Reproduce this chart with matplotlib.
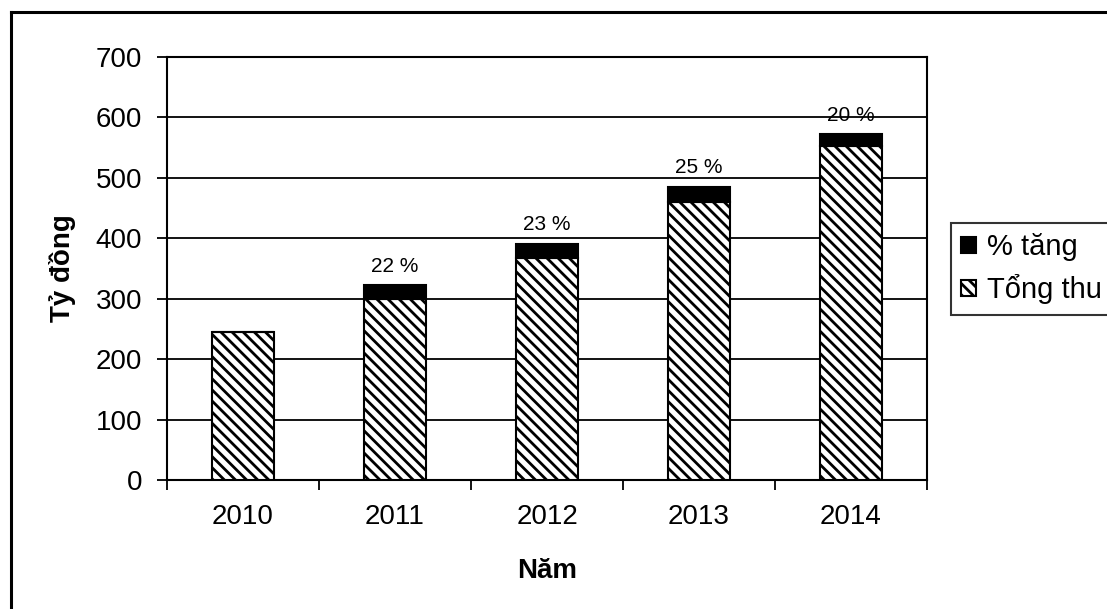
import matplotlib
matplotlib.use("Agg")
import matplotlib.pyplot as plt
from matplotlib.lines import Line2D
import numpy as np

years = ["2010", "2011", "2012", "2013", "2014"]
tong_thu = [245, 300, 368, 460, 552]
pct_tang = [0, 22, 23, 25, 20]
pct_labels = ["", "22 %", "23 %", "25 %", "20 %"]
yticks = [0, 100, 200, 300, 400, 500, 600, 700]

plt.rcParams['font.family'] = ['Liberation Sans', 'DejaVu Sans']
plt.rcParams['hatch.linewidth'] = 2.0

fig = plt.figure(figsize=(11.07, 6.09), dpi=100)
ax = fig.add_axes([167/1107, 1 - 480/609, 760/1107, 423/609])

x = np.arange(len(years))
w = 0.41
b1 = ax.bar(x, tong_thu, width=w, color='white', edgecolor='black',
            hatch='\\\\\\', linewidth=1.5, zorder=3, label='Tổng thu')
b2 = ax.bar(x, pct_tang, width=w, bottom=tong_thu, color='black',
            edgecolor='black', linewidth=1.5, zorder=3, label='% tăng')

for xi, t, p, lab in zip(x, tong_thu, pct_tang, pct_labels):
    if lab:
        ax.annotate(lab, (xi, t + p), xytext=(0, 7), textcoords='offset points',
                    ha='center', va='bottom', fontsize=15)

ax.set_xlim(-0.5, len(years) - 0.5)
ax.set_ylim(0, 700)
ax.set_yticks(yticks)
ax.yaxis.grid(True, color='black', linewidth=1.3, zorder=0)
ax.set_axisbelow(True)

ax.set_xticks(x)
ax.set_xticklabels(years, fontsize=20)
ax.tick_params(axis='x', length=0, pad=17)
ax.set_xticks(np.arange(len(years) + 1) - 0.5, minor=True)
ax.tick_params(axis='x', which='minor', length=7, width=1.3, direction='out')
ax.tick_params(axis='y', labelsize=20, length=7, width=1.3, pad=11)

for s in ['left', 'bottom', 'right', 'top']:
    ax.spines[s].set_linewidth(1.5)
    ax.spines[s].set_color('black')

ax.set_xlabel('Năm', fontsize=20, fontweight='bold')
ax.xaxis.set_label_coords(0.5, -0.185)
ax.set_ylabel('Tỷ đồng', fontsize=20, fontweight='bold')
ax.yaxis.set_label_coords(-0.12, 0.5)

leg = fig.legend([b2, b1], ['% tăng', 'Tổng thu'], loc='upper left',
                 bbox_to_anchor=(951/1107, 1 - 223/609), fontsize=21,
                 frameon=True, fancybox=False, shadow=False,
                 handlelength=0.5, handleheight=0.5, handletextpad=0.4,
                 borderpad=0.35, labelspacing=0.45, borderaxespad=0)
leg.get_frame().set_edgecolor('black')
leg.get_frame().set_linewidth(1.5)

fig.add_artist(Line2D([11/1107, 1.0], [1 - 12/609, 1 - 12/609],
                      transform=fig.transFigure, color='black', linewidth=2.2))
fig.add_artist(Line2D([11/1107, 11/1107], [0.0, 1 - 12/609],
                      transform=fig.transFigure, color='black', linewidth=2.2))

fig.savefig('out.png', dpi=100)
